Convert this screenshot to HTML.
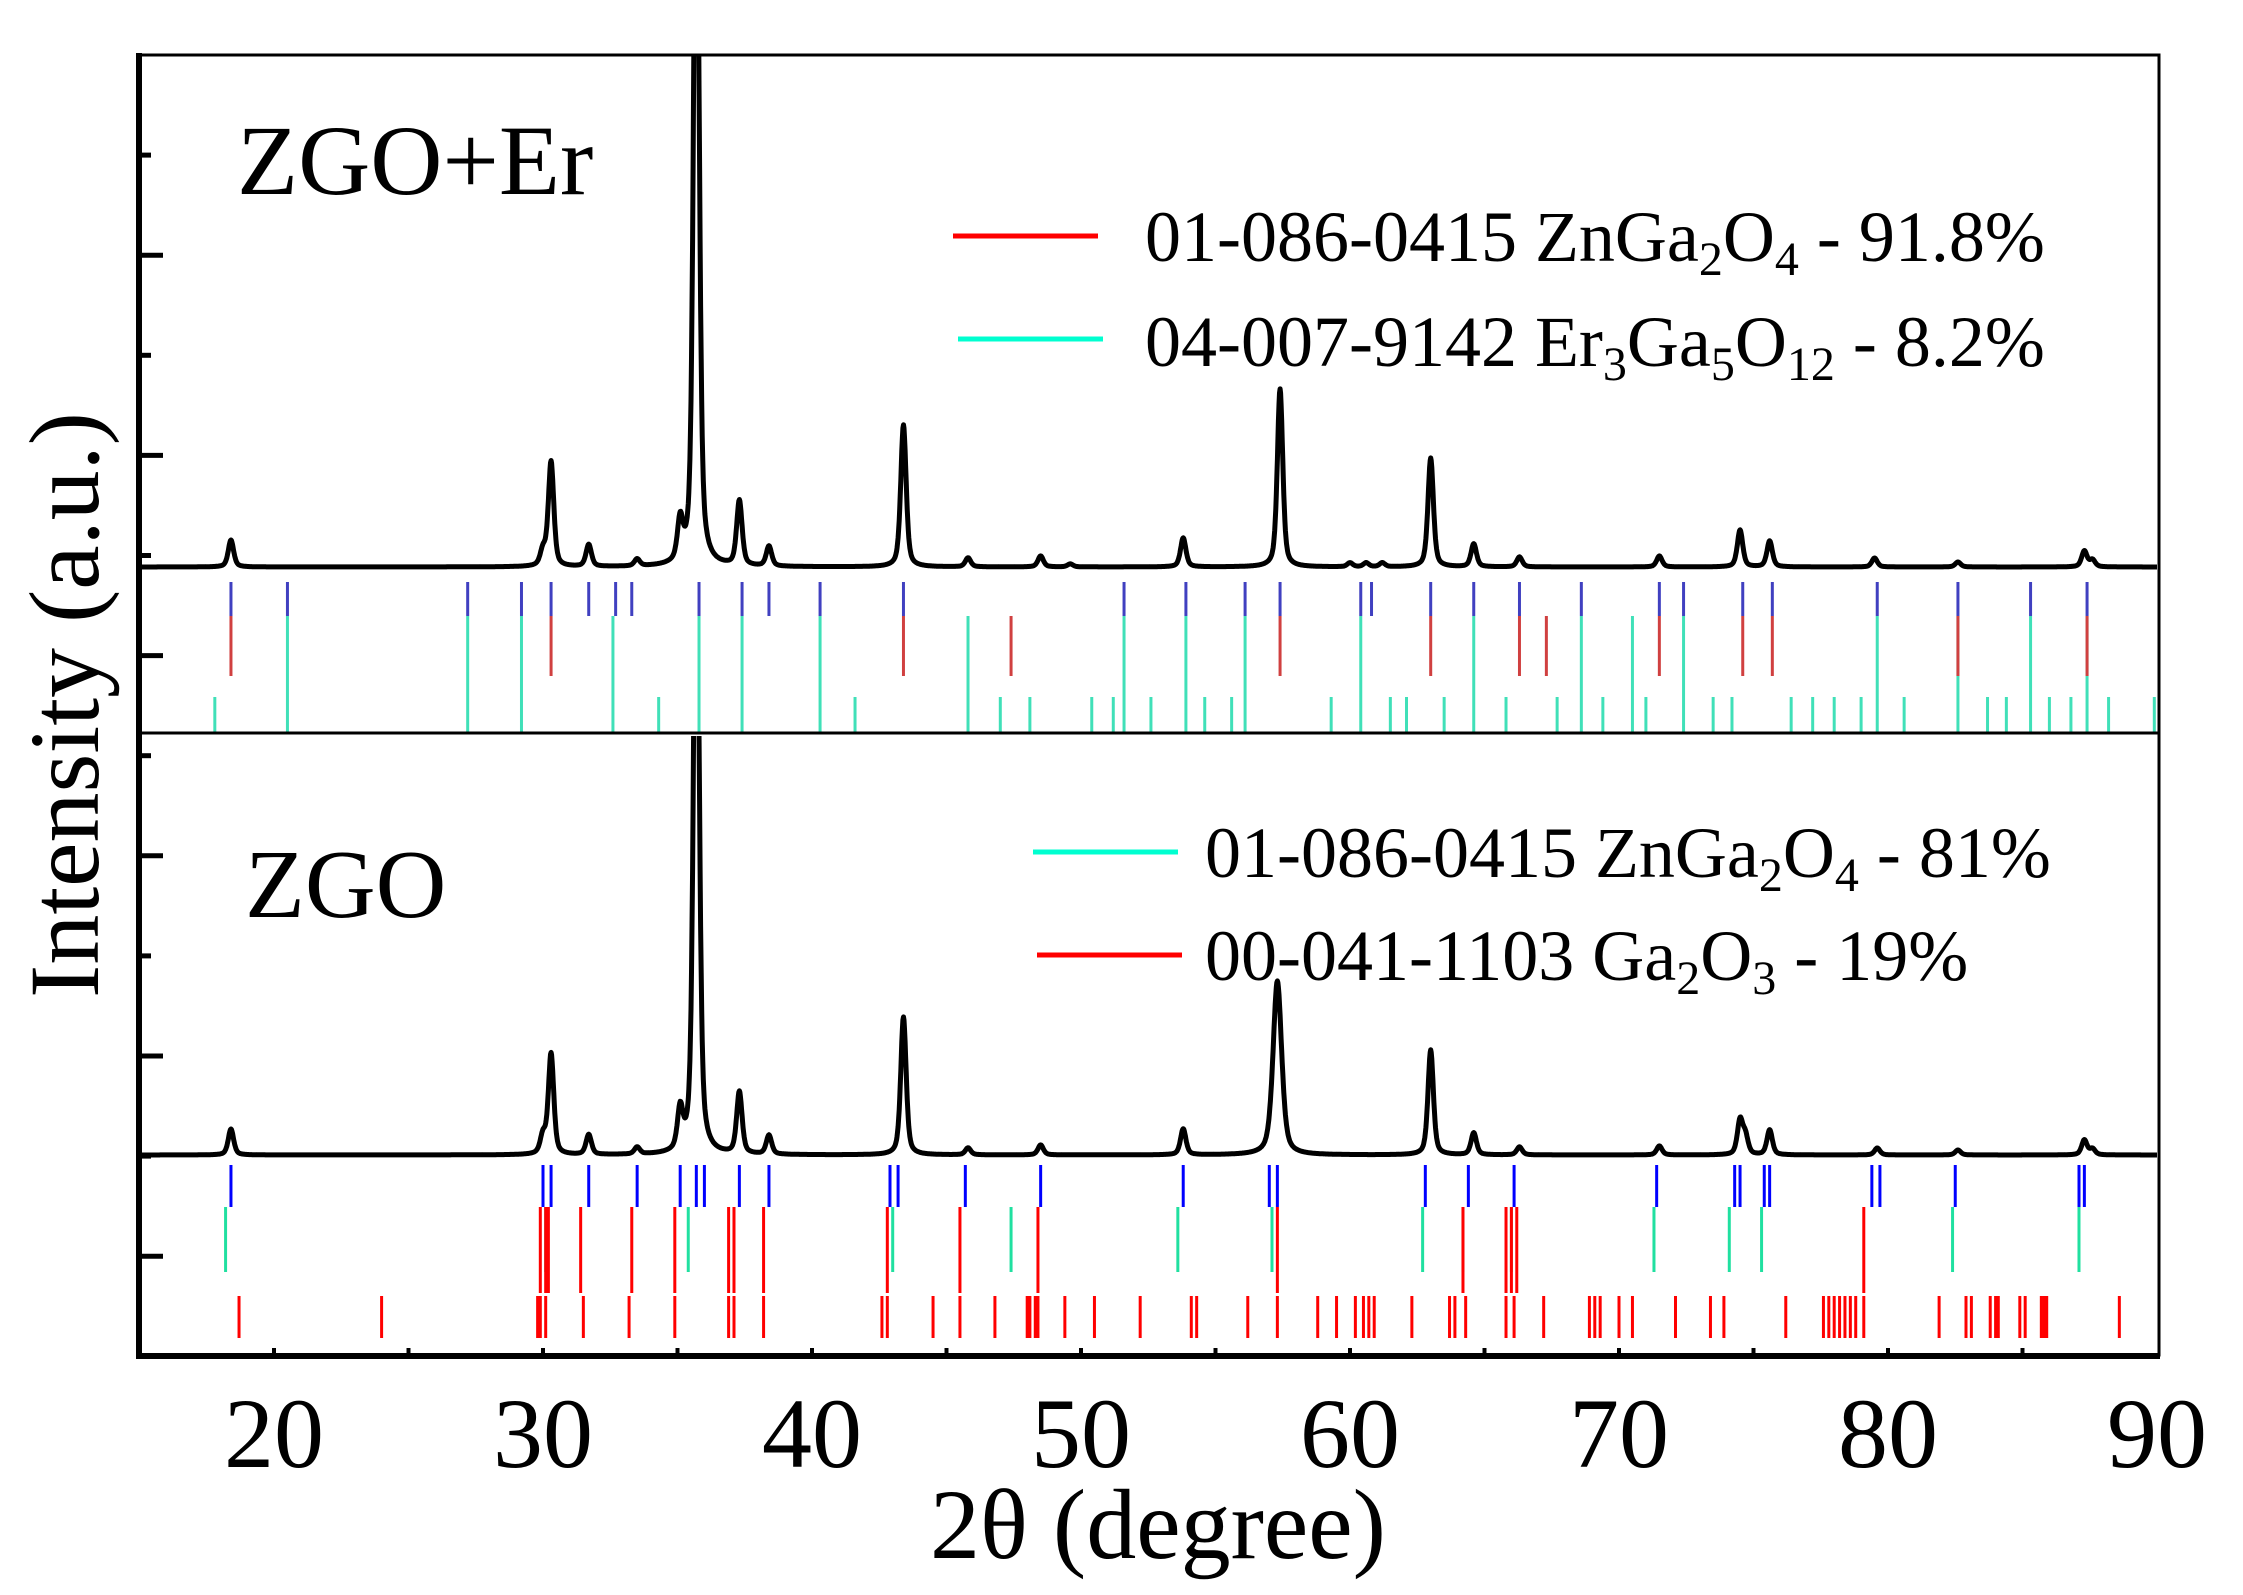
<!DOCTYPE html>
<html><head><meta charset="utf-8"><style>
body{margin:0;background:#fff}
svg{display:block}
text{font-family:"Liberation Serif",serif;fill:#000}
</style></head><body>
<svg id="chart" width="2243" height="1595" viewBox="0 0 2243 1595" xmlns="http://www.w3.org/2000/svg">
<defs>
<clipPath id="clipTop"><rect x="139" y="55" width="2021" height="678"/></clipPath>
<clipPath id="clipBot"><rect x="139" y="736" width="2021" height="620"/></clipPath>
</defs>
<g id="marks"></g>
<rect x="139" y="55" width="2020" height="1300" fill="none" stroke="#000" stroke-width="3"/>
<line x1="139" y1="733" x2="2160" y2="733" stroke="#000" stroke-width="3"/>
<line x1="139" y1="53" x2="139" y2="1359" stroke="#000" stroke-width="6"/>
<line x1="136" y1="1356" x2="2160" y2="1356" stroke="#000" stroke-width="6"/>
<g id="axes"></g>
<text x="237" y="194" font-size="100">ZGO+Er</text>
<text x="245" y="917" font-size="98">ZGO</text>
<g>
<line x1="953" y1="236" x2="1098" y2="236" stroke="#ff0000" stroke-width="5"/>
<text x="1145" y="261" font-size="72">01-086-0415 ZnGa<tspan font-size="48" dy="14">2</tspan><tspan dy="-14">O</tspan><tspan font-size="48" dy="14">4</tspan><tspan dy="-14"> - 91.8%</tspan></text>
<line x1="958" y1="339" x2="1103" y2="339" stroke="#00ffd0" stroke-width="5"/>
<text x="1145" y="366" font-size="72">04-007-9142 Er<tspan font-size="48" dy="14">3</tspan><tspan dy="-14">Ga</tspan><tspan font-size="48" dy="14">5</tspan><tspan dy="-14">O</tspan><tspan font-size="48" dy="14">12</tspan><tspan dy="-14"> - 8.2%</tspan></text>
</g>
<g>
<line x1="1033" y1="852" x2="1178" y2="852" stroke="#00ffd0" stroke-width="5"/>
<text x="1205" y="877" font-size="72">01-086-0415 ZnGa<tspan font-size="48" dy="14">2</tspan><tspan dy="-14">O</tspan><tspan font-size="48" dy="14">4</tspan><tspan dy="-14"> - 81%</tspan></text>
<line x1="1037" y1="955" x2="1182" y2="955" stroke="#ff0000" stroke-width="5"/>
<text x="1205" y="980" font-size="72">00-041-1103 Ga<tspan font-size="48" dy="14">2</tspan><tspan dy="-14">O</tspan><tspan font-size="48" dy="14">3</tspan><tspan dy="-14"> - 19%</tspan></text>
</g>
<text transform="translate(98,705) rotate(-90)" text-anchor="middle" font-size="100">Intensity (a.u.)</text>
<text x="1158" y="1558" text-anchor="middle" font-size="100">2θ (degree)</text>
</svg>
<script>
// ---- data ----
const xTicks = [20,30,40,50,60,70,80,90];
const topPeakPos = [18.4,30.0,30.3,31.7,33.5,35.1,35.7,37.3,38.4,43.4,45.8,48.5,49.6,53.8,57.4,60.0,60.6,61.2,63.0,64.6,66.3,71.5,74.5,75.6,79.5,82.6,87.3,87.6];
const topPeakH   = [27,15,105,22,7,40,800,65,20,142,9,11,3,29,178,4,4,4,109,23,10,11,37,26,9,5,16,7];
const botPeakPos = [18.4,30.0,30.3,31.7,33.5,35.1,35.7,37.3,38.4,43.4,45.8,48.5,53.8,57.3,63.0,64.6,66.3,71.5,74.5,74.7,75.6,79.6,82.6,87.3,87.6];
const botPeakH   = [26,18,101,20,7,40,700,62,19,138,7,10,26,174,105,22,8,9,34,18,25,7,5,15,6];
const topBlue = [18.4,20.5,27.2,29.2,30.3,31.7,32.7,33.3,35.8,37.4,38.4,40.3,43.4,51.6,53.9,56.1,57.4,60.4,60.8,63.0,64.6,66.3,68.6,71.5,72.4,74.6,75.7,79.6,82.6,85.3,87.4];
const topRed = [18.4,30.3,43.4,47.4,57.4,63.0,66.3,67.3,71.5,74.6,75.7,82.6,87.4];
const topCyanLong = [20.5,27.2,29.2,32.6,35.8,37.4,40.3,45.8,51.6,53.9,56.1,60.4,64.6,68.6,70.5,72.4,79.6,82.6,85.3,87.4];
const topCyanShort = [17.8,34.3,41.6,47.0,48.1,50.4,51.2,52.6,54.6,55.6,59.3,61.5,62.1,63.5,65.8,67.7,69.4,71.0,73.5,74.2,76.4,77.2,78.0,79.0,80.6,83.7,84.4,86.0,86.8,88.2,89.9];
const botBlue = [18.4,30.0,30.3,31.7,33.5,35.1,35.7,36.0,37.3,38.4,42.9,43.2,45.7,48.5,53.8,57.0,57.3,62.8,64.4,66.1,71.4,74.3,74.5,75.4,75.6,79.4,79.7,82.5,87.1,87.3];
const botCyan = [18.2,30.1,35.4,37.1,43.0,47.4,53.6,57.1,62.7,64.2,66.0,71.3,74.1,75.3,82.4,87.1];
const botRedMid = [29.9,30.1,30.2,31.4,33.3,34.9,36.9,37.1,38.2,42.8,45.5,48.4,57.3,64.2,65.8,66.0,66.2,79.1];
const botRedLow = [18.7,24.0,29.8,29.9,30.1,31.5,33.2,34.9,36.9,37.1,38.2,42.6,42.8,44.5,45.5,46.8,48.0,48.1,48.3,48.4,49.4,50.5,52.2,54.1,54.3,56.2,57.3,58.8,59.5,60.2,60.5,60.7,60.9,62.3,63.7,63.9,64.3,65.8,66.1,67.2,68.9,69.1,69.3,70.0,70.5,72.1,73.4,73.9,76.2,77.6,77.8,78.0,78.2,78.4,78.6,78.8,79.1,81.9,82.9,83.1,83.8,84.0,84.1,84.9,85.1,85.7,85.8,85.9,88.6];
// ---- scales ----
const X0=139.5, PPD=26.9;
function xs(t){return X0+(t-15)*PPD;}
const NS='http://www.w3.org/2000/svg';
const marks=document.getElementById('marks'), axes=document.getElementById('axes');
function mk(tag,attrs,parent){const e=document.createElementNS(NS,tag);for(const k in attrs)e.setAttribute(k,attrs[k]);parent.appendChild(e);return e;}
function spectrum(pos,h,base,wide){
  let d='';
  for(let t=15;t<=90.001;t+=0.02){
    let s=0;
    for(let i=0;i<pos.length;i++){
      const w=(wide&&Math.abs(pos[i]-57.3)<0.2)?0.19:0.12;
      const u=(t-pos[i])/w;
      s+=h[i]*(0.5/(1+u*u)+0.5*Math.exp(-0.693*u*u));
    }
    d+=(d?'L':'M')+xs(t).toFixed(1)+','+(base-s).toFixed(1);
  }
  return d;
}
const p1=mk('path',{d:spectrum(topPeakPos,topPeakH,567,false),fill:'none',stroke:'#000','stroke-width':5,'stroke-linejoin':'round','clip-path':'url(#clipTop)'},marks);


const p2=mk('path',{d:spectrum(botPeakPos,botPeakH,1155,true),fill:'none',stroke:'#000','stroke-width':5,'stroke-linejoin':'round','clip-path':'url(#clipBot)'},marks);


function sticks(arr,y1,y2,color,name){
  const g=mk('g',{},marks);
  
  
  arr.forEach(t=>{
    const l=mk('line',{x1:xs(t),x2:xs(t),y1:y1,y2:y2,stroke:color,'stroke-width':3},g);
    
    
  });
}
sticks(topCyanLong,616,733,'#40e0b8','sticks-er3ga5o12-long');
sticks(topCyanShort,697,733,'#40e0b8','sticks-er3ga5o12-short');
sticks(topRed,616,676,'#d04040','sticks-znga2o4-top');
sticks(topBlue,582,616,'#4040c0','sticks-calc-top');
sticks(botCyan,1207,1272,'#20e0a0','sticks-znga2o4-bottom');
sticks(botRedMid,1207,1293,'#ff0000','sticks-ga2o3-mid');
sticks(botRedLow,1296,1338,'#ff0000','sticks-ga2o3-low');
sticks(botBlue,1165,1207,'#0000ff','sticks-calc-bottom');
// y ticks
for(let i=0;i<13;i++){
  const y=55+i*100.1; if(y<60||y>1350)continue;
  const long=(i%2===0);
  const t=mk('line',{x1:139,x2:139+(long?24:12),y1:y,y2:y,stroke:'#000','stroke-width':5},axes);
  
  
}
// x ticks
for(let v=20;v<90;v+=5){
  const t=mk('line',{x1:xs(v),x2:xs(v),y1:1356,y2:1348,stroke:'#000','stroke-width':4},axes);
  
  
}
xTicks.forEach(v=>{
  const t=mk('text',{x:xs(v),y:1467,'text-anchor':'middle','font-size':100},axes);
  t.textContent=v;
  
  
});
</script>
</body></html>
